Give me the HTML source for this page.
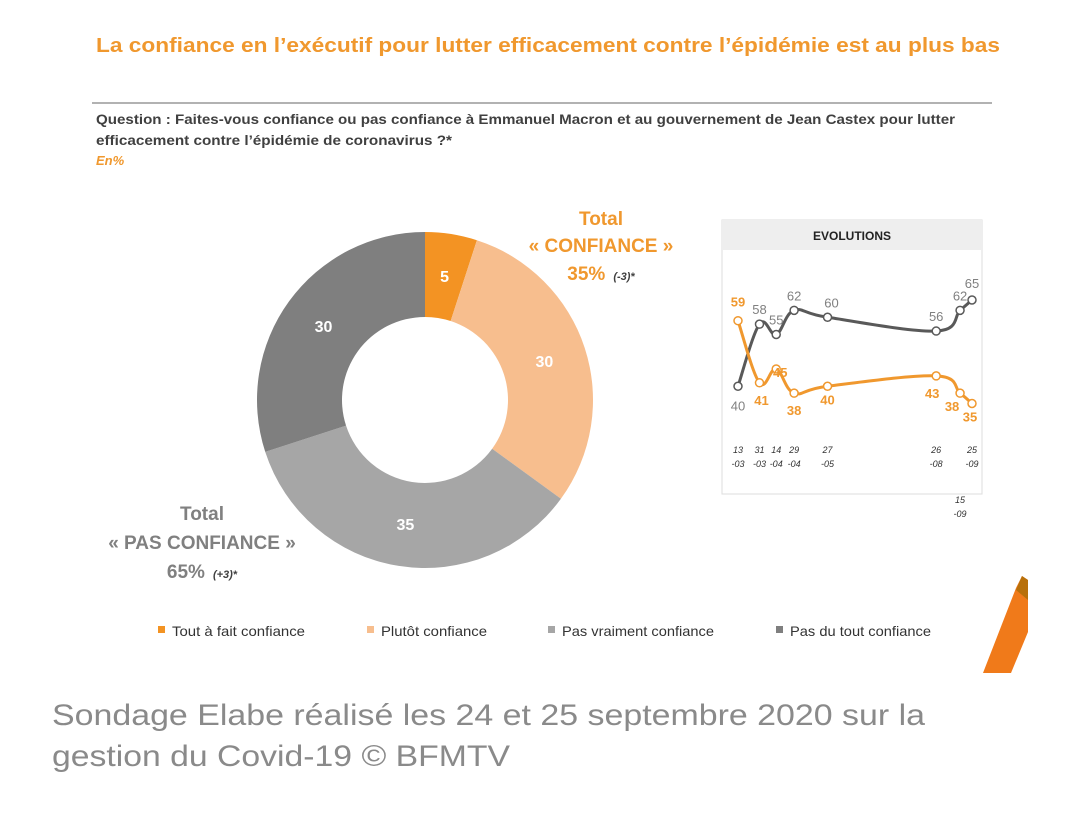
<!DOCTYPE html>
<html><head><meta charset="utf-8"><style>
html,body{margin:0;padding:0;background:#fff;width:1080px;height:840px;overflow:hidden}
svg text{font-family:"Liberation Sans",sans-serif}
</style></head><body>
<svg width="1080" height="840" viewBox="0 0 1080 840">
<text x="96" y="52" font-size="20" font-weight="bold" fill="#F0982E" textLength="904" lengthAdjust="spacingAndGlyphs">La confiance en l’exécutif pour lutter efficacement contre l’épidémie est au plus bas</text>
<line x1="92" y1="103" x2="992" y2="103" stroke="#999" stroke-width="1.5"/>
<text x="96" y="124" font-size="14" font-weight="bold" fill="#404040" textLength="859" lengthAdjust="spacingAndGlyphs">Question : Faites-vous confiance ou pas confiance à Emmanuel Macron et au gouvernement de Jean Castex pour lutter</text>
<text x="96" y="145" font-size="14" font-weight="bold" fill="#404040" textLength="356" lengthAdjust="spacingAndGlyphs">efficacement contre l’épidémie de coronavirus ?*</text>
<text x="96" y="165" font-size="13" font-weight="bold" font-style="italic" fill="#F0982E">En%</text>
<g id="donut"></g>
<g font-weight="bold" fill="#F0982E" text-anchor="middle">
<text x="601" y="225" font-size="19">Total</text>
<text x="601" y="252" font-size="19">« CONFIANCE »</text>
<text x="601" y="280" font-size="19">35%<tspan font-size="11" font-style="italic" fill="#404040" dx="8">(-3)*</tspan></text>
</g>
<g font-weight="bold" fill="#808080" text-anchor="middle">
<text x="202" y="520" font-size="19">Total</text>
<text x="202" y="549" font-size="19">« PAS CONFIANCE »</text>
<text x="202" y="578" font-size="19">65%<tspan font-size="11" font-style="italic" fill="#404040" dx="8">(+3)*</tspan></text>
</g>
<g>
<rect x="722" y="220" width="260" height="274" fill="#fff" stroke="#ddd"/>
<rect x="722" y="220" width="260" height="30" fill="#eeeeee"/>
<text x="852" y="240" font-size="12" font-weight="bold" fill="#222" text-anchor="middle">EVOLUTIONS</text>
<g id="evo"></g>
</g>
<g id="legend"></g>
<polygon points="1022,576 1028,580 1028,632 1011,673 983,673 1016,588" fill="#F07A1A"/>
<polygon points="1022,576 1028,580 1028,600 1016,590" fill="#B8700A"/>
<text x="52" y="725" font-size="30" fill="#8a8a8a" textLength="873" lengthAdjust="spacingAndGlyphs">Sondage Elabe réalisé les 24 et 25 septembre 2020 sur la</text>
<text x="52" y="766" font-size="30" fill="#8a8a8a" textLength="458" lengthAdjust="spacingAndGlyphs">gestion du Covid-19 © BFMTV</text>
</svg>
<script>
const NS="http://www.w3.org/2000/svg";
const categories=["Tout à fait confiance","Plutôt confiance","Pas vraiment confiance","Pas du tout confiance"];
const shares=[5,30,35,30];
const colors=["#F39323","#F7BE8E","#A6A6A6","#7F7F7F"];
const dates=["13-03","31-03","14-04","29-04","27-05","26-08","15-09","25-09"];
const dayOfYear=[73,91,105,120,148,239,259,269];
const confiance=[59,41,45,38,40,43,38,35];
const pasConfiance=[40,58,55,62,60,56,62,65];
function mk(tag,attrs,parent){const e=document.createElementNS(NS,tag);for(const k in attrs)e.setAttribute(k,attrs[k]);parent.appendChild(e);return e;}
const cx=425,cy=400,R=168,r=83;
const donut=document.getElementById('donut');
const total=shares.reduce((a,b)=>a+b,0);
let acc=0;
shares.forEach((v,i)=>{
  const a0=acc/total*2*Math.PI-Math.PI/2; acc+=v; const a1=acc/total*2*Math.PI-Math.PI/2;
  const lg=(a1-a0)>Math.PI?1:0;
  const d=`M${cx+R*Math.cos(a0)},${cy+R*Math.sin(a0)} A${R},${R} 0 ${lg} 1 ${cx+R*Math.cos(a1)},${cy+R*Math.sin(a1)} L${cx+r*Math.cos(a1)},${cy+r*Math.sin(a1)} A${r},${r} 0 ${lg} 0 ${cx+r*Math.cos(a0)},${cy+r*Math.sin(a0)} Z`;
  const p=mk('path',{d:d,fill:colors[i]},donut);
  
  
  const am=(a0+a1)/2, lr=(R+r)/2;
  const t=mk('text',{x:cx+lr*Math.cos(am),y:cy+lr*Math.sin(am)+6,'font-size':16,'font-weight':'bold',fill:'#fff','text-anchor':'middle'},donut);
  t.textContent=v;
  
  
});
const evo=document.getElementById('evo');
const xs=d=>738+(d-73)*(234/196);
const ys=v=>300+(65-v)*3.45;
function smooth(pts){
  let d=`M${pts[0][0]},${pts[0][1]}`;
  for(let i=0;i<pts.length-1;i++){
    const p0=pts[Math.max(0,i-1)],p1=pts[i],p2=pts[i+1],p3=pts[Math.min(pts.length-1,i+2)];
    const t=0.18;
    const c1=[p1[0]+(p2[0]-p0[0])*t,p1[1]+(p2[1]-p0[1])*t];
    const c2=[p2[0]-(p3[0]-p1[0])*t,p2[1]-(p3[1]-p1[1])*t];
    d+=` C${c1[0]},${c1[1]} ${c2[0]},${c2[1]} ${p2[0]},${p2[1]}`;
  }
  return d;
}
function series(vals,col,name){
  const pts=vals.map((v,i)=>[xs(dayOfYear[i]),ys(v)]);
  const pl=mk('path',{d:smooth(pts),fill:'none',stroke:col,'stroke-width':3,'stroke-linejoin':'round'},evo);
  
  
  pts.forEach((p,i)=>{
    const c=mk('circle',{cx:p[0],cy:p[1],r:4,fill:'#fff',stroke:col,'stroke-width':1.5},evo);
    
    
  });
  return pts;
}
const gp=series(pasConfiance,'#595959','pas-confiance');
const op=series(confiance,'#F0982E','confiance');
const gOff=[[0,24],[0,-10],[0,-10],[0,-10],[4,-10],[0,-10],[0,-10],[0,-12]];
const oOff=[[0,-14],[2,22],[4,8],[0,22],[0,18],[-4,22],[-8,18],[-2,18]];
gp.forEach((p,i)=>{const t=mk('text',{x:p[0]+gOff[i][0],y:p[1]+gOff[i][1],'font-size':13,fill:'#808080','text-anchor':'middle'},evo);t.textContent=pasConfiance[i];

});
op.forEach((p,i)=>{const t=mk('text',{x:p[0]+oOff[i][0],y:p[1]+oOff[i][1],'font-size':13,'font-weight':'bold',fill:'#F0982E','text-anchor':'middle'},evo);t.textContent=confiance[i];

});
dates.forEach((d,i)=>{
  const x=xs(dayOfYear[i]); const y0=i===6?503:453;
  const pr=d.split('-');
  const t1=mk('text',{x:x,y:y0,'font-size':9,'font-style':'italic',fill:'#333','text-anchor':'middle'},evo);t1.textContent=pr[0];
  
  
  const t2=mk('text',{x:x,y:y0+14,'font-size':9,'font-style':'italic',fill:'#333','text-anchor':'middle'},evo);t2.textContent='-'+pr[1];
  
  
});
const lg=document.getElementById('legend');
const lx=[158,367,548,776];
const lw=[133,106,152,141];
categories.forEach((c,i)=>{
  const s=mk('rect',{x:lx[i],y:626,width:7,height:7,fill:colors[i]},lg);
  
  
  const t=mk('text',{x:lx[i]+14,y:636,'font-size':14,fill:'#333',textLength:lw[i],lengthAdjust:'spacingAndGlyphs'},lg);t.textContent=c;
  
  
});
</script>
</body></html>
